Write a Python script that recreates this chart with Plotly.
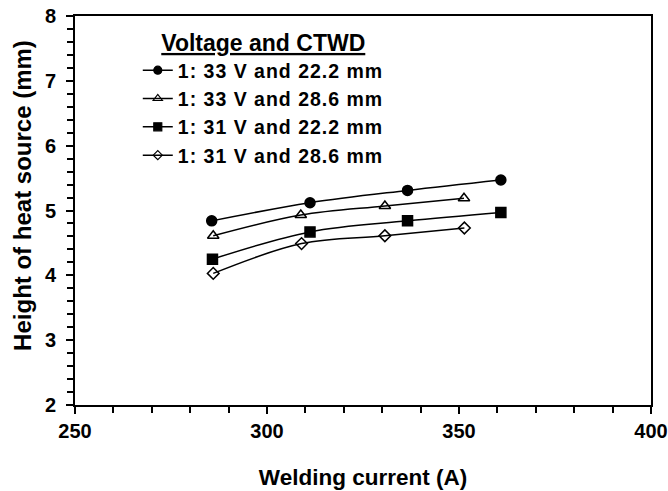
import plotly.graph_objects as go

# Data
names = ["1: 33 V and 22.2 mm", "1: 33 V and 28.6 mm", "1: 31 V and 22.2 mm", "1: 31 V and 28.6 mm"]
x_33_222 = [285.6, 311.2, 336.6, 360.9]
y_33_222 = [4.84, 5.12, 5.31, 5.47]
x_33_286 = [286.0, 308.8, 330.7, 351.3]
y_33_286 = [4.61, 4.93, 5.07, 5.19]
x_31_222 = [285.8, 311.2, 336.6, 360.9]
y_31_222 = [4.25, 4.67, 4.84, 4.97]
x_31_286 = [286.0, 309.0, 330.7, 351.4]
y_31_286 = [4.03, 4.49, 4.61, 4.73]

xs = [x_33_222, x_33_286, x_31_222, x_31_286]
ys = [y_33_222, y_33_286, y_31_222, y_31_286]
symbols = ["circle", "triangle-up-open", "square", "diamond-open"]
sizes = [10, 10, 10, 9]
legend_sizes = [8, 8, 8, 7]

FONT = "Arial, Liberation Sans, sans-serif"

fig = go.Figure()
for i in range(4):
    fig.add_trace(go.Scatter(
        x=xs[i], y=ys[i], name=names[i], mode="lines+markers",
        line=dict(color="black", width=1.5, shape="spline"),
        marker=dict(symbol=symbols[i], size=sizes[i], color="black",
                    line=dict(color="black", width=1.5)),
        showlegend=False, legendgroup=str(i),
    ))
# legend entries (smaller symbols, as in the reference legend)
for i in range(4):
    fig.add_trace(go.Scatter(
        x=[None], y=[None], mode="lines+markers",
        name='<span style="letter-spacing:1px">' + names[i] + '</span>',
        line=dict(color="black", width=1.5),
        marker=dict(symbol=symbols[i], size=legend_sizes[i], color="black",
                    line=dict(color="black", width=1.2)),
        showlegend=True, legendgroup=str(i), hoverinfo="skip",
    ))

fig.update_layout(
    width=668, height=491,
    margin=dict(l=75, r=17, t=16, b=86),
    paper_bgcolor="white", plot_bgcolor="white",
    font=dict(family=FONT, color="black"),
    showlegend=True,
    legend=dict(
        x=0.109, y=0.987, xanchor="left", yanchor="top",
        bgcolor="rgba(0,0,0,0)",
        font=dict(family=FONT, size=19.5, weight="bold"),
        title=dict(text="<u>Voltage and CTWD</u>", side="top center",
                   font=dict(family=FONT, size=23, weight="bold")),
        traceorder="normal", tracegroupgap=0,
        itemwidth=30,
    ),
    xaxis=dict(
        range=[250, 400], tickmode="linear", tick0=250, dtick=50,
        showgrid=False, zeroline=False, automargin=False,
        showline=True, linecolor="black", linewidth=1.8, mirror=True,
        ticks="outside", ticklen=7, tickwidth=1.5, tickcolor="black",
        minor=dict(dtick=10, ticks="outside", ticklen=6, tickwidth=1.5, tickcolor="black"),
        tickfont=dict(family=FONT, size=20, weight="bold"),
        title=dict(text="Welding current (A)", standoff=28,
                   font=dict(family=FONT, size=22.5, weight="bold")),
    ),
    yaxis=dict(
        range=[2, 8], tickmode="linear", tick0=2, dtick=1,
        showgrid=False, zeroline=False, automargin=False,
        showline=True, linecolor="black", linewidth=1.8, mirror=True,
        ticks="outside", ticklen=7, tickwidth=1.5, tickcolor="black",
        minor=dict(dtick=0.2, ticks="outside", ticklen=6, tickwidth=1.5, tickcolor="black"),
        tickfont=dict(family=FONT, size=20, weight="bold"),
        ticklabelstandoff=6,
    ),
    annotations=[dict(
        text="Height of heat source (mm)", textangle=-90,
        xref="paper", yref="paper", x=-0.09, y=0.538,
        xanchor="center", yanchor="middle", showarrow=False,
        font=dict(family=FONT, size=24, weight="bold"),
    )],
)

fig.write_html("out.html")
